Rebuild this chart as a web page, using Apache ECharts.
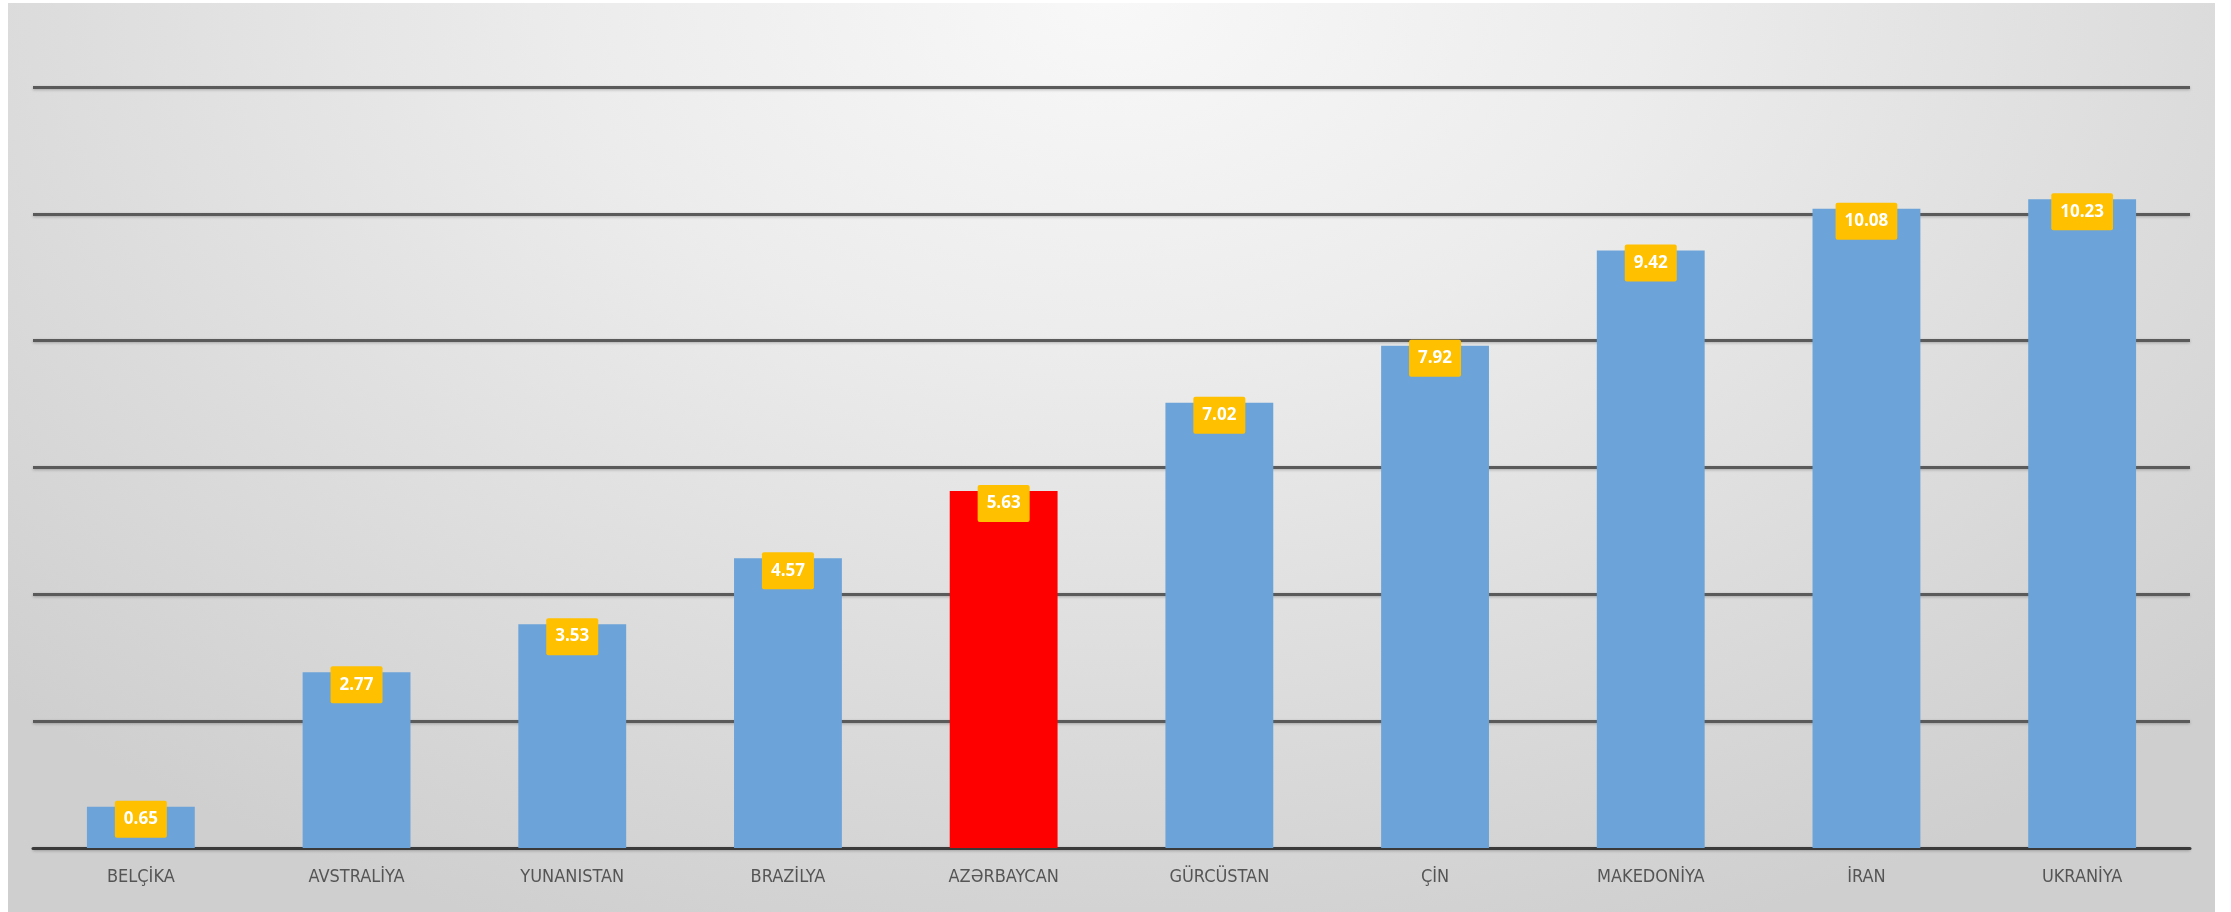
<!DOCTYPE html>
<html>
<head>
<meta charset="utf-8">
<script src="https://cdn.jsdelivr.net/npm/echarts@6/dist/echarts.min.js"></script>
<style>
  html, body { margin: 0; padding: 0; width: 2231px; height: 912px; background: #ffffff; overflow: hidden; }
  #bg { position: absolute; left: 8px; top: 3px; width: 2207px; height: 909px;
        background: radial-gradient(ellipse 70% 110% at 50% 0%, #f8f8f8 0%, #ececec 35%, #dcdcdc 70%, #cfcfcf 100%); }
  #chart { position: absolute; left: 0; top: 0; width: 2231px; height: 912px; }
</style>
</head>
<body>
<div id="bg"></div>
<div id="chart"></div>
<script>
const categories = ['BELÇİKA', 'AVSTRALİYA', 'YUNANISTAN', 'BRAZİLYA', 'AZƏRBAYCAN', 'GÜRCÜSTAN', 'ÇİN', 'MAKEDONİYA', 'İRAN', 'UKRANİYA'];
const values = [0.65, 2.77, 3.53, 4.57, 5.63, 7.02, 7.92, 9.42, 10.08, 10.23];
const highlightCategory = 'AZƏRBAYCAN';
const yTicks = [0, 2, 4, 6, 8, 10, 12];

const chart = echarts.init(document.getElementById('chart'), null, { renderer: 'canvas' });
chart.setOption({
  backgroundColor: 'transparent',
  animation: false,
  grid: { left: 33, right: 41, top: 87, bottom: 64, containLabel: false },
  xAxis: {
    type: 'category',
    data: categories,
    axisLine: { show: true, lineStyle: { color: '#3a3a3a', width: 3 } },
    axisTick: { show: false },
    axisLabel: {
      color: '#555555',
      fontSize: 18,
      fontFamily: "'Liberation Sans Narrow', 'DejaVu Sans Condensed', sans-serif",
      margin: 20
    }
  },
  yAxis: {
    type: 'value',
    min: yTicks[0],
    max: yTicks[yTicks.length - 1],
    interval: yTicks[1] - yTicks[0],
    axisLine: { show: false },
    axisTick: { show: false },
    axisLabel: { show: false },
    splitLine: { show: true, lineStyle: { color: '#5a5a5a', width: 3, shadowColor: 'rgba(0,0,0,0.25)', shadowBlur: 3, shadowOffsetY: 1 } }
  },
  series: [{
    type: 'bar',
    barWidth: '50%',
    data: values.map((v, i) => ({
      value: v,
      itemStyle: { color: categories[i] === highlightCategory ? '#ff0000' : '#6ca3d8' }
    })),
    label: {
      show: true,
      position: 'insideTop',
      distance: 0,
      offset: [0, -6],
      color: '#ffffff',
      fontWeight: 'bold',
      fontSize: 17,
      fontFamily: "'Open Sans', 'Liberation Sans', sans-serif",
      backgroundColor: '#ffc000',
      padding: [10, 9, 10, 9],
      borderRadius: 2,
      formatter: p => p.value.toFixed(2)
    }
  }]
});
</script>
</body>
</html>
